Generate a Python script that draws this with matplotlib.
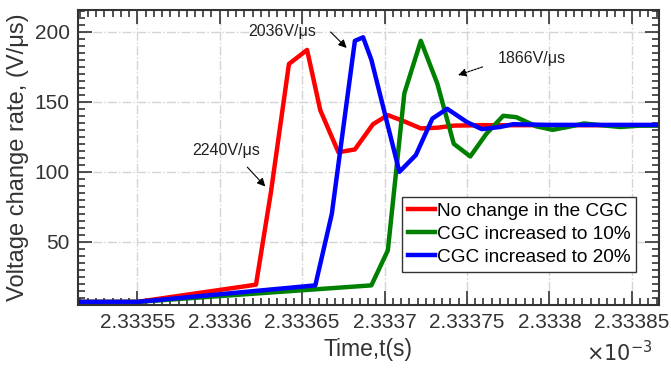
import matplotlib
matplotlib.use('Agg')
import matplotlib.pyplot as plt
from matplotlib.ticker import MultipleLocator, FormatStrFormatter

plt.rcParams['font.family'] = ['Liberation Sans', 'DejaVu Sans']

# time axis in units of 1e-3 s, voltage change rate in V/us
red_t = [2.33350, 2.33355, 2.333622, 2.333631, 2.333642, 2.333653, 2.333661, 2.333672,
         2.333682, 2.333693, 2.333702, 2.333712, 2.333722, 2.333732, 2.333742, 2.333760,
         2.333800, 2.333870]
red_v = [7.2, 7.2, 19.5, 85, 177, 187, 144, 114, 116, 134, 140.5, 136, 131, 131.5, 133,
         133.3, 133.3, 133.3]

green_t = [2.33350, 2.33355, 2.333692, 2.333702, 2.333712, 2.333722, 2.333732, 2.333742,
           2.333752, 2.333762, 2.333772, 2.333780, 2.333792, 2.333802, 2.333811, 2.333821,
           2.333843, 2.333855, 2.333870]
green_v = [7.2, 7.2, 19, 44, 156, 193.5, 163, 120, 111, 127.5, 140, 139, 132.5, 130, 132,
           134.5, 132, 133, 133]

blue_t = [2.33350, 2.33355, 2.333658, 2.333668, 2.333682, 2.333687, 2.333692, 2.333709,
          2.333719, 2.333729, 2.333738, 2.333750, 2.333759, 2.333770, 2.333778, 2.333800,
          2.333870]
blue_v = [7.2, 7.2, 19, 70, 193.5, 196, 180, 100, 112, 138, 145, 135.5, 130.5, 132, 134,
          133.5, 133.5]

labels = ['No change in the CGC', 'CGC increased to 10%', 'CGC increased to 20%']
rate_notes = ['2240V/μs', '2036V/μs', '1866V/μs']

fig = plt.figure(figsize=(6.71, 3.70), dpi=100)
ax = fig.add_axes([0.1162, 0.1757, 0.8659, 0.7973])

ax.plot(red_t, red_v, color='#ff0000', lw=3.2, label=labels[0])
ax.plot(green_t, green_v, color='#008000', lw=3.2, label=labels[1])
ax.plot(blue_t, blue_v, color='#0000ff', lw=3.2, label=labels[2])

ax.set_xlim(2.333514, 2.3338665)
ax.set_ylim(5, 215.5)

ax.xaxis.set_major_locator(MultipleLocator(0.00005))
ax.xaxis.set_minor_locator(MultipleLocator(0.000005))
ax.yaxis.set_major_locator(MultipleLocator(50))
ax.yaxis.set_minor_locator(MultipleLocator(5))
ax.xaxis.set_major_formatter(plt.FuncFormatter(lambda v, p: ('%.5f' % v).rstrip('0')))
ax.yaxis.set_major_formatter(FormatStrFormatter('%d'))

ax.tick_params(which='both', direction='in', top=True, right=True, colors='#333333',
               labelsize=15, width=1.2)
ax.tick_params(which='major', length=10, pad=6)
ax.tick_params(which='minor', length=5)
for s in ax.spines.values():
    s.set_linewidth(1.5)
    s.set_color('#333333')

ax.grid(True, which='major', color='#d4d4d4', linestyle='-.', lw=1)
ax.set_axisbelow(True)

ax.set_xlabel('Time,t(s)', fontsize=16.5, color='#333333', labelpad=4)
ax.set_ylabel('Voltage change rate, (V/μs)', fontsize=17, color='#333333', labelpad=4)
fig.text(0.973, 0.012, r'$\times10^{-3}$', ha='right', va='bottom', fontsize=15, color='#333333')

# slope annotations
ax.text(2.3336041, 115.5, rate_notes[0], fontsize=11.5, ha='center', va='center', color='#222222')
ax.annotate('', xy=(2.3336288, 88.1), xytext=(2.3336156, 104.8),
            arrowprops=dict(arrowstyle='-|>', color='black', lw=0.8, mutation_scale=12))
ax.text(2.333638, 199.8, rate_notes[1], fontsize=11.5, ha='center', va='center', color='#222222')
ax.annotate('', xy=(2.3336782, 187), xytext=(2.3336661, 201.2),
            arrowprops=dict(arrowstyle='-|>', color='black', lw=0.8, mutation_scale=12))
ax.text(2.3337894, 181, rate_notes[2], fontsize=11.5, ha='center', va='center', color='#222222')
ax.annotate('', xy=(2.333743, 168.4), xytext=(2.3337611, 175.5),
            arrowprops=dict(arrowstyle='-|>', color='black', lw=0.8, ls=(0, (2, 1)),
                            mutation_scale=12))

leg = ax.legend(loc='lower right', bbox_to_anchor=(0.9604, 0.113), fontsize=13.7,
                frameon=True, fancybox=False, edgecolor='#333333', framealpha=1,
                handlelength=1.4, handletextpad=0.1, borderpad=0.3, labelspacing=0.3,
                borderaxespad=0)
leg.get_frame().set_linewidth(1.0)

fig.savefig('out.png', dpi=100)
